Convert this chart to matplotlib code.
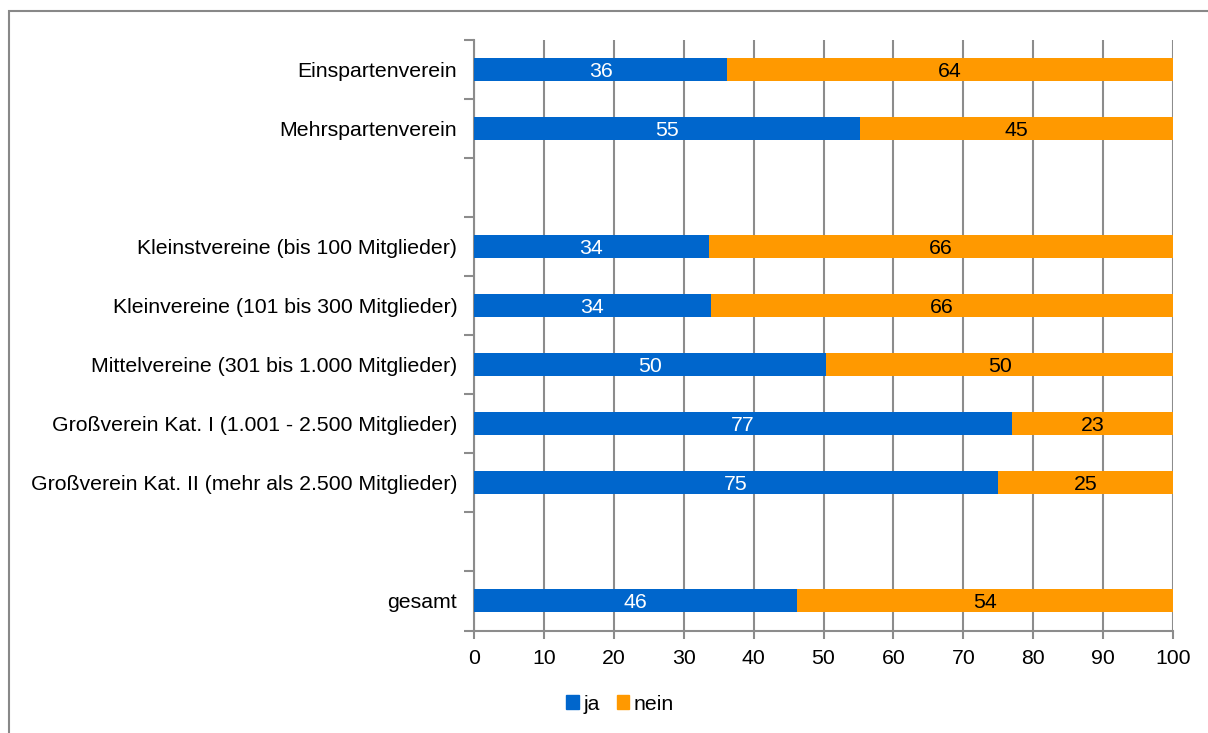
import matplotlib.pyplot as plt
from matplotlib.patches import Patch, Rectangle

plt.rcParams['font.family'] = ['Liberation Sans', 'DejaVu Sans']

# empty strings are spacer rows between the groups
categories = ['Einspartenverein', 'Mehrspartenverein', '',
              'Kleinstvereine (bis 100 Mitglieder)',
              'Kleinvereine (101 bis 300 Mitglieder)',
              'Mittelvereine (301 bis 1.000 Mitglieder)',
              'Großverein Kat. I (1.001 - 2.500 Mitglieder)',
              'Großverein Kat. II (mehr als 2.500 Mitglieder)', '',
              'gesamt']
ja = [36.2, 55.2, None, 33.6, 33.9, 50.4, 77.0, 75.0, None, 46.2]
nein = [63.8, 44.8, None, 66.4, 66.1, 49.6, 23.0, 25.0, None, 53.8]

blue = '#0066CC'
orange = '#FF9900'
gray = '#8c8c8c'
fs = 15.3

fig = plt.figure(figsize=(12.08, 7.33), dpi=100)
ax = fig.add_axes([474/1208, 1-630.5/733, 699/1208, 590.5/733])

# outer frame around the chart
fig.patches.append(Rectangle((9/1208, -0.01), 1.02, 1-11/733+0.01, transform=fig.transFigure,
                             fill=False, edgecolor='#888888', linewidth=1.5))

for i, (j, n) in enumerate(zip(ja, nein)):
    if j is None:
        continue
    ax.barh(i, j, height=0.39, color=blue, zorder=3)
    ax.barh(i, n, left=j, height=0.39, color=orange, zorder=3)
    ax.text(j/2, i + 0.03, '%.0f' % j, ha='center', va='center', color='white', fontsize=fs, zorder=4)
    ax.text(j + n/2, i + 0.03, '%.0f' % n, ha='center', va='center', color='black', fontsize=fs, zorder=4)

ax.set_xlim(0, 100)
ax.set_ylim(9.5, -0.5)
ax.set_xticks(range(0, 101, 10))
ax.set_yticks(range(len(categories)))
ax.set_yticklabels(categories)
ax.set_yticks([k - 0.5 for k in range(len(categories) + 1)], minor=True)
ax.tick_params(axis='y', which='major', length=0, pad=12, labelsize=fs)
ax.tick_params(axis='y', which='minor', length=7, color=gray, width=1.5)
ax.tick_params(axis='x', length=6, color=gray, width=1.5, labelsize=fs, pad=7)

ax.grid(axis='x', color=gray, linewidth=1.5, zorder=0)
for s in ['top', 'right']:
    ax.spines[s].set_visible(False)
for s in ['left', 'bottom']:
    ax.spines[s].set_color(gray)
    ax.spines[s].set_linewidth(1.5)

handles = [Patch(color=blue, label='ja'), Patch(color=orange, label='nein')]
fig.legend(handles=handles, loc='center', bbox_to_anchor=(620/1208, 1-704/733), ncol=2,
           frameon=False, fontsize=fs, handlelength=0.6, handleheight=0.6,
           handletextpad=0.2, columnspacing=0.8)

fig.savefig('out.png', dpi=100)
